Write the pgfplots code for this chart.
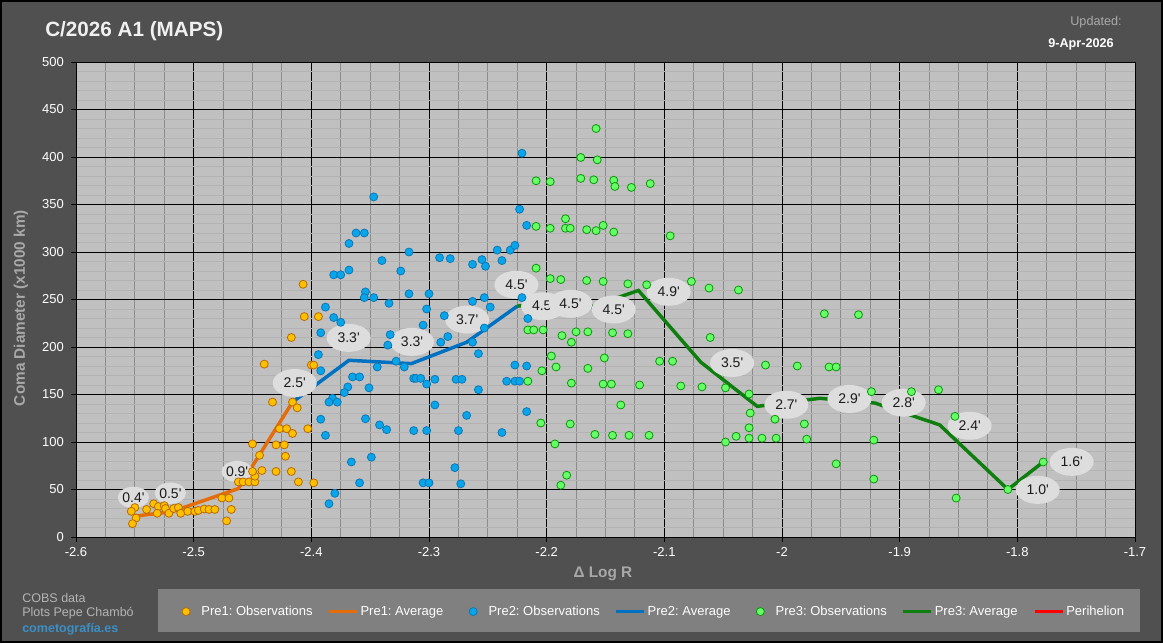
\documentclass[border=0pt]{standalone}
\usepackage{fontspec}
\setmainfont{Liberation Sans}
\usepackage{pgfplots}
\pgfplotsset{compat=1.18}
\usetikzlibrary{shapes.geometric}
\definecolor{bgdark}{HTML}{505050}
\definecolor{plotbg}{HTML}{C0C0C0}
\definecolor{leggray}{HTML}{808080}
\definecolor{labgray}{HTML}{A8A8A8}
\definecolor{footgray}{HTML}{B4B4B4}
\definecolor{linkblue}{HTML}{3A8FC6}
\definecolor{updcol}{HTML}{A9A9A9}
\definecolor{minorx}{HTML}{8C8C8C}
\definecolor{minory}{HTML}{B3B3B3}
\definecolor{ofill}{HTML}{FFC000}
\definecolor{oedge}{HTML}{B86A00}
\definecolor{oline}{HTML}{E46C0A}
\definecolor{bfill}{HTML}{0AA5E8}
\definecolor{bedge}{HTML}{0B78B8}
\definecolor{bline}{HTML}{0070C0}
\definecolor{gfill}{HTML}{66FF66}
\definecolor{gedge}{HTML}{0A960A}
\definecolor{gline}{HTML}{0E7F0E}
\definecolor{ellfill}{HTML}{DDDDDD}
\definecolor{elltext}{HTML}{1A1A1A}
\pgfplotsset{
  obsleg/.style={legend image code/.code={\path[draw=none,fill=none] (0pt,-3pt) rectangle (14pt,3pt); \draw[mark repeat=2,mark phase=2,##1] plot coordinates {(0pt,0pt)(4pt,0pt)(8pt,0pt)};}},
  lineleg/.style={legend image code/.code={\draw[##1] (0pt,0pt) -- (21pt,0pt);}},
}
\frenchspacing
\begin{document}
\frenchspacing
\begin{tikzpicture}[x=0.75pt,y=0.75pt]
\fill[black] (0,0) rectangle (1163,643);
\fill[bgdark] (2,2) rectangle (1161,641);
\useasboundingbox (0,0) rectangle (1163,643);
\fill[leggray] (158,11) rectangle (1140,54);
\node[anchor=west, text=white!94!black, font=\bfseries\fontsize{15.5}{18}\selectfont, inner sep=0pt] at (45,612) {C/2026 A1 (MAPS)};
\node[anchor=east, text=updcol, font=\fontsize{9.5}{11}\selectfont, inner sep=0pt] at (1122,621) {Updated:};
\node[anchor=east, text=white, font=\bfseries\fontsize{9.5}{11}\selectfont, inner sep=0pt] at (1114,599) {9-Apr-2026};
\node[anchor=west, text=footgray, font=\fontsize{9.4}{11}\selectfont, inner sep=0pt] at (22,45) {COBS data};
\node[anchor=west, text=footgray, font=\fontsize{9.4}{11}\selectfont, inner sep=0pt] at (22,30) {Plots Pepe Chambó};
\node[anchor=west, text=linkblue, font=\bfseries\fontsize{9.4}{11}\selectfont, inner sep=0pt] at (22,14) {cometografía.es};
\begin{axis}[
  at={(57pt,79.5pt)}, anchor=south west,
  scale only axis, width=794.25pt, height=356.25pt,
  xmin=-2.6, xmax=-1.7, ymin=0, ymax=500,
  xtick={-2.6,-2.5,-2.4,-2.3,-2.2,-2.1,-2,-1.9,-1.8,-1.7},
  ytick={0,50,100,150,200,250,300,350,400,450,500},
  minor x tick num=3, minor y tick num=4,
  grid=both,
  major grid style={black, line width=0.75pt},
  minor x grid style={minorx, line width=0.75pt},
  minor y grid style={minory, line width=0.5pt},
  axis background/.style={fill=plotbg},
  axis line style={black, line width=0.75pt},
  tick style={black, line width=0.6pt},
  major tick length=3.6pt, minor tick length=0pt,
  tick align=outside, xtick pos=bottom, ytick pos=left,
  /pgf/number format/assume math mode=true,
  tick label style={font=\fontsize{9.75}{11}\selectfont, text=white},
  yticklabel style={xshift=-2pt},
  xticklabel style={yshift=-1pt},
  xlabel={Δ Log R},
  ylabel={Coma Diameter (x1000 km)},
  label style={font=\bfseries\fontsize{11.5}{13}\selectfont, text=labgray},
  xlabel style={at={(axis description cs:0.4976,-0.078)}, anchor=center},
  ylabel style={at={(axis description cs:-0.052,0.482)}, anchor=center},
  clip=false,
  legend columns=7,
  legend style={at={(axis description cs:0.0989,-0.157)}, anchor=west,
    draw=none, fill=none, inner sep=0pt, outer sep=0pt,
    text=white, font=\fontsize{9.75}{11}\selectfont,
    nodes={inner sep=1.5pt}, column sep=0pt},
]
% ---- Pre1 ----
\addplot[oline, line width=2.6pt, forget plot] coordinates {(-2.550,22)(-2.519,26.5)(-2.462,51)(-2.416,142)};
\addplot[only marks, mark=*, mark size=3pt, mark options={draw=oedge, fill=ofill, line width=0.6pt}, forget plot] coordinates {
(-2.550,31)(-2.553,27)(-2.549,20)(-2.552,14)(-2.540,29)(-2.534,35)(-2.530,32)(-2.525,33)(-2.531,25)(-2.524,30)(-2.521,25)(-2.517,30)(-2.513,31)(-2.511,25)(-2.505,27)(-2.499,27)(-2.496,28)(-2.491,29.5)(-2.487,29)(-2.482,29)(-2.476,41)(-2.470,41)(-2.468,29)(-2.472,17)(-2.462,58)(-2.458,58)(-2.453,58)(-2.448,58)(-2.448,64)(-2.450,69)(-2.442,70)(-2.444,86)(-2.450,98)(-2.430,97)(-2.423,97)(-2.422,85)(-2.430,69)(-2.417,69)(-2.411,58)(-2.398,57)(-2.427,114)(-2.421,114)(-2.416,109)(-2.403,114)(-2.433,142)(-2.416,142)(-2.412,136)(-2.440,182)(-2.400,181)(-2.398,181)(-2.417,210)(-2.406,232)(-2.394,232)(-2.407,266)};
% ---- Pre2 ----
\addplot[bline, line width=2.6pt, forget plot] coordinates {(-2.416,142)(-2.368,186)(-2.315,182.5)(-2.268,205)(-2.225,243)};
\addplot[only marks, mark=*, mark size=3pt, mark options={draw=bedge, fill=bfill, line width=0.6pt}, forget plot] coordinates {
(-2.347,358)(-2.223,345)(-2.217,328)(-2.362,320)(-2.355,320)(-2.368,309)(-2.317,300)(-2.340,291)(-2.291,294)(-2.282,293)(-2.242,302)(-2.231,302)(-2.227,307)(-2.263,287)(-2.255,292)(-2.252,285)(-2.238,291)(-2.324,280)(-2.381,276)(-2.375,276)(-2.368,281)(-2.354,258)(-2.355,252)(-2.347,252)(-2.317,256)(-2.300,256)(-2.334,246)(-2.388,242)(-2.253,252)(-2.263,248)(-2.248,242)(-2.302,240)(-2.381,231)(-2.375,226)(-2.287,233)(-2.305,223)(-2.392,215)(-2.333,213)(-2.335,202)(-2.253,220)(-2.284,211)(-2.290,205)(-2.263,205)(-2.394,192)(-2.258,193)(-2.392,175)(-2.328,185)(-2.321,179)(-2.344,179)(-2.365,168.5)(-2.359,168.5)(-2.369,158)(-2.372,152)(-2.382,146)(-2.385,142)(-2.378,142)(-2.351,157)(-2.313,167)(-2.311,167)(-2.307,167)(-2.295,166)(-2.302,161)(-2.277,166)(-2.272,166)(-2.234,164)(-2.227,164)(-2.223,164)(-2.227,181)(-2.217,180)(-2.258,155)(-2.295,139)(-2.268,128)(-2.217,132)(-2.392,124)(-2.354,124.5)(-2.342,118)(-2.336,113)(-2.388,107)(-2.313,112)(-2.302,112)(-2.275,112)(-2.238,110)(-2.366,79)(-2.349,84)(-2.278,73)(-2.359,57)(-2.305,57)(-2.300,57)(-2.273,56)(-2.380,46)(-2.385,35)(-2.221,404)(-2.221,252)(-2.216,230)};
% ---- Pre3 ----
\addplot[gline, line width=2.6pt, forget plot] coordinates {(-2.225,243)(-2.204,246)(-2.167,240.5)(-2.122,259.5)(-2.069,184)(-2.021,137.5)(-1.968,146)(-1.921,141)(-1.866,118)(-1.808,50)(-1.778,79)};
\addplot[only marks, mark=*, mark size=3pt, mark options={draw=gedge, fill=gfill, line width=0.6pt}, forget plot] coordinates {
(-2.158,430)(-2.171,399.5)(-2.157,397)(-2.209,375)(-2.197,374)(-2.171,377.5)(-2.160,376)(-2.143,375.5)(-2.142,369)(-2.128,368)(-2.112,372)(-2.184,335)(-2.209,327)(-2.197,325)(-2.184,325)(-2.180,325)(-2.166,323.5)(-2.158,322.5)(-2.152,328)(-2.143,321)(-2.095,317)(-2.209,283)(-2.197,272)(-2.188,271)(-2.166,270)(-2.152,269)(-2.131,266.5)(-2.115,265.5)(-2.077,269)(-2.062,262)(-2.216,218)(-2.211,218)(-2.203,218)(-2.187,212)(-2.175,216)(-2.165,216)(-2.179,205)(-2.144,215)(-2.131,214)(-2.061,210)(-2.196,190.5)(-2.151,188.5)(-2.192,179)(-2.204,175)(-2.165,177.5)(-2.104,185)(-2.093,185)(-2.216,164)(-2.179,162)(-2.152,161)(-2.145,161)(-2.121,160)(-2.086,159)(-2.068,158)(-2.137,139)(-2.205,120)(-2.180,119)(-2.159,108)(-2.144,107)(-2.130,107)(-2.113,107)(-2.193,98)(-2.183,65)(-2.188,54.5)(-2.037,260)(-1.964,235)(-1.935,234)(-2.014,181)(-1.987,180)(-1.960,179)(-1.954,179)(-2.048,157)(-2.028,150.5)(-1.924,153)(-1.890,153)(-2.027,130.5)(-2.006,124)(-1.981,119)(-2.028,115)(-2.039,106)(-2.028,104)(-2.017,104)(-2.005,104)(-2.048,100)(-1.979,103)(-1.922,102)(-1.954,77)(-1.922,61)(-1.867,155)(-1.853,127)(-1.852,41)(-1.808,50)(-1.778,79)};
% ---- legend ----
\addlegendimage{only marks, mark=*, mark size=3pt, mark options={draw=oedge, fill=ofill, line width=0.6pt}, obsleg}
\addlegendentry{\makebox[92.75pt][l]{Pre1: Observations}}
\addlegendimage{oline, line width=2.6pt, lineleg}
\addlegendentry{\makebox[79pt][l]{Pre1: Average}}
\addlegendimage{only marks, mark=*, mark size=3pt, mark options={draw=bedge, fill=bfill, line width=0.6pt}, obsleg}
\addlegendentry{\makebox[92.75pt][l]{Pre2: Observations}}
\addlegendimage{bline, line width=2.6pt, lineleg}
\addlegendentry{\makebox[79pt][l]{Pre2: Average}}
\addlegendimage{only marks, mark=*, mark size=3pt, mark options={draw=gedge, fill=gfill, line width=0.6pt}, obsleg}
\addlegendentry{\makebox[92.75pt][l]{Pre3: Observations}}
\addlegendimage{gline, line width=2.6pt, lineleg}
\addlegendentry{\makebox[72pt][l]{Pre3: Average}}
\addlegendimage{red, line width=2.6pt, lineleg}
\addlegendentry{Perihelion}
% ---- data labels ----
\tikzset{lab/.style={ellipse, fill=ellfill, draw=none, inner sep=0pt, minimum width=33pt, minimum height=21pt, text=elltext, font=\fontsize{10.5}{12}\selectfont},
         labs/.style={lab, minimum width=23pt, minimum height=16pt}}
\node[labs] at (axis cs:-2.5512,41.7) {0.4\textquotesingle};
\node[labs] at (axis cs:-2.5198,46.1) {0.5\textquotesingle};
\node[labs] at (axis cs:-2.4631,68.9) {0.9\textquotesingle};
\node[lab] at (axis cs:-2.4141,162.1) {2.5\textquotesingle};
\node[lab] at (axis cs:-2.3683,209.6) {3.3\textquotesingle};
\node[lab] at (axis cs:-2.3144,205.4) {3.3\textquotesingle};
\node[lab] at (axis cs:-2.2676,228.9) {3.7\textquotesingle};
\node[lab] at (axis cs:-2.2257,265.5) {4.5\textquotesingle};
\node[lab] at (axis cs:-2.2030,242.9) {4.5\textquotesingle};
\node[lab] at (axis cs:-2.1798,245.5) {4.5\textquotesingle};
\node[lab] at (axis cs:-2.1430,239.5) {4.5\textquotesingle};
\node[lab] at (axis cs:-2.0963,258.1) {4.9\textquotesingle};
\node[lab] at (axis cs:-2.0424,183.2) {3.5\textquotesingle};
\node[lab] at (axis cs:-1.9963,139.2) {2.7\textquotesingle};
\node[lab] at (axis cs:-1.9427,145.3) {2.9\textquotesingle};
\node[lab] at (axis cs:-1.8966,141.4) {2.8\textquotesingle};
\node[lab] at (axis cs:-1.8405,117.1) {2.4\textquotesingle};
\node[lab] at (axis cs:-1.7827,49.6) {1.0\textquotesingle};
\node[lab] at (axis cs:-1.7538,79.1) {1.6\textquotesingle};
\end{axis}
\end{tikzpicture}
\end{document}
